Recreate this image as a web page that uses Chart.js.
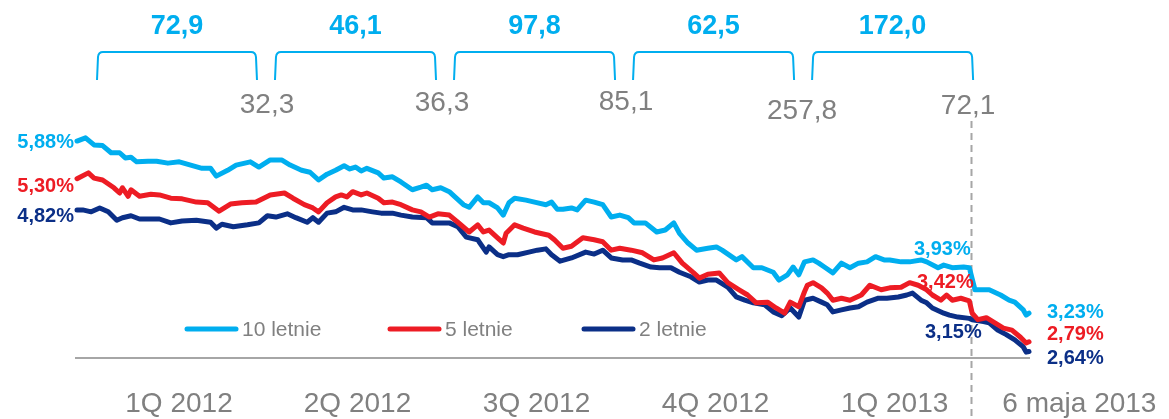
<!DOCTYPE html>
<html>
<head>
<meta charset="utf-8">
<script src="https://cdn.jsdelivr.net/npm/chart.js@4.4.0/dist/chart.umd.min.js"></script>
<style>
  html, body { margin: 0; padding: 0; background: #fff; }
  #wrap { width: 1169px; height: 419px; }
</style>
</head>
<body>
<div id="wrap"><canvas id="yieldChart" width="1169" height="419"></canvas></div>
<script>
// Session index (trading day counted from early Jan 2012) and yields in %
const tenYearSessions = [0,3,6,9,12,15,17,19,21,25,28,32,36,40,44,47,49,53,56,61,64,68,72,75,79,82,85,88,91,94,96,98,100,102,106,108,111,114,118,121,123,125,128,131,133,136,138,141,143,145,148,150,152,154,158,161,165,167,169,171,174,176,179,182,185,188,191,194,196,200,204,207,210,212,215,218,222,225,227,232,234,238,241,245,247,250,252,254,256,259,261,263,266,269,272,275,278,281,284,286,290,293,297,299,303,305,308,312,314,316,319,321,325,328,330,333,334,335];
const tenYearYield = [5.88,5.93,5.82,5.81,5.70,5.70,5.62,5.63,5.56,5.57,5.57,5.54,5.56,5.51,5.46,5.46,5.34,5.43,5.51,5.56,5.48,5.59,5.59,5.51,5.43,5.40,5.28,5.37,5.43,5.50,5.45,5.48,5.42,5.46,5.39,5.31,5.33,5.25,5.13,5.17,5.20,5.13,5.16,5.10,5.02,4.90,4.86,5.02,4.93,4.93,4.85,4.74,4.93,5.00,4.97,4.94,4.90,4.94,4.83,4.83,4.85,4.82,4.97,4.94,4.90,4.71,4.74,4.70,4.62,4.62,4.48,4.51,4.62,4.46,4.31,4.20,4.23,4.25,4.20,4.05,4.10,3.93,3.93,3.86,3.74,3.82,3.94,3.82,4.02,4.05,4.00,3.94,3.85,4.00,3.93,4.00,4.02,4.10,4.05,4.05,4.02,4.02,4.05,4.02,3.93,3.97,3.93,3.94,3.93,3.59,3.59,3.59,3.51,3.43,3.40,3.28,3.20,3.23];

const fiveYearSessions = [0,4,6,9,13,15,16,18,19,22,26,29,33,37,42,46,50,54,58,63,68,73,76,80,83,85,88,91,93,95,97,100,102,106,108,111,114,118,121,124,127,131,134,138,141,143,145,148,150,151,154,157,161,166,168,171,174,178,182,185,188,191,195,199,203,206,210,213,217,219,222,226,229,233,236,239,243,246,249,251,254,256,257,259,262,264,266,269,272,276,279,283,286,290,293,296,299,301,304,306,308,311,314,315,317,320,323,326,329,332,334,335];
const fiveYearYield = [5.30,5.39,5.31,5.28,5.16,5.08,5.16,5.03,5.13,5.03,5.06,5.05,5.00,4.99,4.94,4.93,4.80,4.91,4.93,4.94,5.05,5.08,5.00,4.90,4.85,4.79,4.93,5.02,5.05,5.02,5.10,5.05,5.08,5.00,4.93,4.94,4.90,4.82,4.79,4.71,4.76,4.74,4.63,4.48,4.59,4.48,4.51,4.39,4.31,4.46,4.59,4.54,4.48,4.43,4.36,4.23,4.26,4.39,4.36,4.33,4.20,4.23,4.20,4.16,4.05,4.08,4.16,4.00,3.85,3.77,3.83,3.85,3.70,3.59,3.51,3.39,3.40,3.31,3.23,3.40,3.33,3.56,3.66,3.70,3.62,3.54,3.43,3.46,3.43,3.51,3.66,3.59,3.62,3.63,3.70,3.66,3.59,3.51,3.43,3.51,3.43,3.46,3.42,3.23,3.13,3.16,3.08,3.00,2.97,2.86,2.77,2.79];

const twoYearSessions = [0,2,5,8,11,14,16,19,22,26,29,33,37,42,47,49,51,55,60,64,67,70,74,77,81,83,85,88,91,94,97,100,104,107,111,114,118,123,125,131,134,137,141,144,145,148,150,152,155,159,162,165,167,170,174,179,182,185,188,192,195,198,202,205,209,212,216,219,222,225,229,232,235,238,242,245,248,251,254,256,259,262,264,266,269,272,275,278,282,285,289,292,294,297,299,301,305,307,310,314,315,319,321,324,327,330,333,334,335];
const twoYearYield = [4.82,4.82,4.79,4.85,4.79,4.66,4.70,4.73,4.68,4.68,4.68,4.62,4.65,4.66,4.63,4.54,4.60,4.56,4.59,4.62,4.73,4.71,4.76,4.70,4.63,4.70,4.63,4.77,4.79,4.86,4.82,4.82,4.79,4.77,4.77,4.74,4.71,4.70,4.62,4.62,4.56,4.40,4.36,4.17,4.25,4.13,4.10,4.13,4.13,4.17,4.20,4.22,4.13,4.03,4.08,4.17,4.14,4.20,4.08,4.05,4.05,4.00,3.94,3.93,3.93,3.86,3.79,3.71,3.74,3.74,3.63,3.48,3.43,3.39,3.36,3.25,3.19,3.31,3.17,3.43,3.46,3.40,3.36,3.25,3.28,3.31,3.33,3.40,3.46,3.46,3.48,3.51,3.54,3.43,3.39,3.31,3.23,3.20,3.17,3.15,3.13,3.10,3.08,2.97,2.90,2.82,2.71,2.63,2.64];

const seriesNames = ['10 letnie', '5 letnie', '2 letnie'];
const quarterLabels = ['1Q 2012', '2Q 2012', '3Q 2012', '4Q 2012', '1Q 2013'];
const lastDateLabel = '6 maja 2013';
const quarterTotals = [72.9, 46.1, 97.8, 62.5, 172.0];
const quarterEndValues = [32.3, 36.3, 85.1, 257.8, 72.1];
const quarterBounds = [0, 66.5, 129.5, 192.5, 255.5, 318.5];
const markSession = 314;     // last session of 1Q 2013

const FONT = '"Liberation Sans", Arial, Helvetica, sans-serif';
const BLUE = '#00AEEF';
const RED = '#ED1C24';
const NAVY = '#0B2F87';
const GREY = '#808080';
const RULE = '#A6A6A6';

function fmt(v, d) {
    return v.toFixed(d).replace('.', ',');
}

function toPoints(sessions, values) {
    return sessions.map((s, i) => ({ x: s, y: values[i] }));
}

function valueAt(sessions, values, s) {
    return values[sessions.indexOf(s)];
}

const annotations = {
    id: 'annotations',
    beforeDatasetsDraw(chart) {
        const { ctx, chartArea, scales: { x } } = chart;
        ctx.save();
        ctx.strokeStyle = RULE;
        ctx.lineWidth = 2;
        ctx.beginPath();
        ctx.moveTo(chartArea.left - 2, chartArea.bottom);
        ctx.lineTo(chartArea.right + 1, chartArea.bottom);
        ctx.stroke();

        // dashed marker at the end of 1Q 2013
        const dx = Math.round(x.getPixelForValue(markSession + 0.5)) + 0.5;
        ctx.setLineDash([7, 5]);
        ctx.beginPath();
        ctx.moveTo(dx, 121);
        ctx.lineTo(dx, chart.height);
        ctx.stroke();
        ctx.restore();
    },
    afterDatasetsDraw(chart) {
        const { ctx, chartArea, scales: { x, y } } = chart;
        const px = s => x.getPixelForValue(s);
        ctx.save();
        ctx.textBaseline = 'middle';

        // brackets with quarter totals above
        const endNudgeX = [1, -3, 2, -1, -14];
        const endNudgeY = [105, 103, 102, 111, 106];
        ctx.strokeStyle = BLUE;
        ctx.lineWidth = 2;
        for (let i = 0; i < quarterTotals.length; i++) {
            const l = i === 0 ? chartArea.left + 20 : px(quarterBounds[i]) + 9;
            const r = px(quarterBounds[i + 1]) - 9;
            ctx.beginPath();
            ctx.moveTo(l, 80);
            ctx.lineTo(l + 1, 57);
            ctx.quadraticCurveTo(l + 1.5, 52, l + 6, 52);
            ctx.lineTo(r - 6, 52);
            ctx.quadraticCurveTo(r - 1.5, 52, r - 1, 57);
            ctx.lineTo(r, 80);
            ctx.stroke();

            const c = (l + r) / 2;
            ctx.fillStyle = BLUE;
            ctx.font = 'bold 27px ' + FONT;
            ctx.textAlign = 'center';
            ctx.fillText(fmt(quarterTotals[i], 1), c, 27);

            ctx.fillStyle = GREY;
            ctx.font = '28px ' + FONT;
            ctx.fillText(fmt(quarterEndValues[i], 1), px(quarterBounds[i + 1]) + endNudgeX[i], endNudgeY[i]);

            ctx.fillText(quarterLabels[i], c + 2, 404);
        }
        ctx.textAlign = 'left';
        ctx.fillText(lastDateLabel, px(markSession) + 33, 404);

        // value labels
        const sets = [
            [tenYearSessions, tenYearYield, BLUE, 1, -18, -1],
            [fiveYearSessions, fiveYearYield, RED, 8, -18, -7],
            [twoYearSessions, twoYearYield, NAVY, 7, 14, 7]
        ];
        const midX = [943, 946, 954];
        ctx.font = 'bold 20px ' + FONT;
        sets.forEach(([s, v, color, dStart, dMid, dEnd], i) => {
            ctx.fillStyle = color;
            const first = v[0], last = v[v.length - 1], mid = valueAt(s, v, markSession);
            ctx.textAlign = 'right';
            ctx.fillText(fmt(first, 2) + '%', chartArea.left - 3, y.getPixelForValue(first) + dStart);
            ctx.textAlign = 'center';
            ctx.fillText(fmt(mid, 2) + '%', px(markSession) + (midX[i] - 970), y.getPixelForValue(mid) + dMid);
            ctx.textAlign = 'left';
            ctx.fillText(fmt(last, 2) + '%', chartArea.right + 18, y.getPixelForValue(last) + dEnd);
        });

        // legend inside the plot
        const legendX = [108, 311, 505];
        ctx.font = '21px ' + FONT;
        ctx.lineWidth = 5;
        ctx.lineCap = 'round';
        chart.data.datasets.forEach((ds, i) => {
            const lx = chartArea.left + legendX[i];
            ctx.strokeStyle = ds.borderColor;
            ctx.beginPath();
            ctx.moveTo(lx + 2, 329);
            ctx.lineTo(lx + 51, 329);
            ctx.stroke();
            ctx.fillStyle = GREY;
            ctx.fillText(ds.label, lx + 57, 330);
        });
        ctx.restore();
    }
};

const lineStyle = {
    borderWidth: 5,
    pointRadius: 0,
    tension: 0,
    borderJoinStyle: 'round',
    borderCapStyle: 'round',
    fill: false,
    clip: false
};

new Chart(document.getElementById('yieldChart'), {
    type: 'line',
    data: {
        datasets: [
            { label: seriesNames[0], data: toPoints(tenYearSessions, tenYearYield), borderColor: BLUE, ...lineStyle },
            { label: seriesNames[1], data: toPoints(fiveYearSessions, fiveYearYield), borderColor: RED, ...lineStyle },
            { label: seriesNames[2], data: toPoints(twoYearSessions, twoYearYield), borderColor: NAVY, ...lineStyle }
        ]
    },
    options: {
        responsive: false,
        animation: false,
        devicePixelRatio: 1,
        layout: { padding: { left: 77, right: 140, top: 130, bottom: 61 } },
        scales: {
            x: { type: 'linear', min: 0, max: 335, display: false },
            y: { min: 2.54, max: 6.05, display: false }
        },
        plugins: {
            legend: { display: false },
            tooltip: { enabled: false }
        }
    },
    plugins: [annotations]
});
</script>
</body>
</html>
